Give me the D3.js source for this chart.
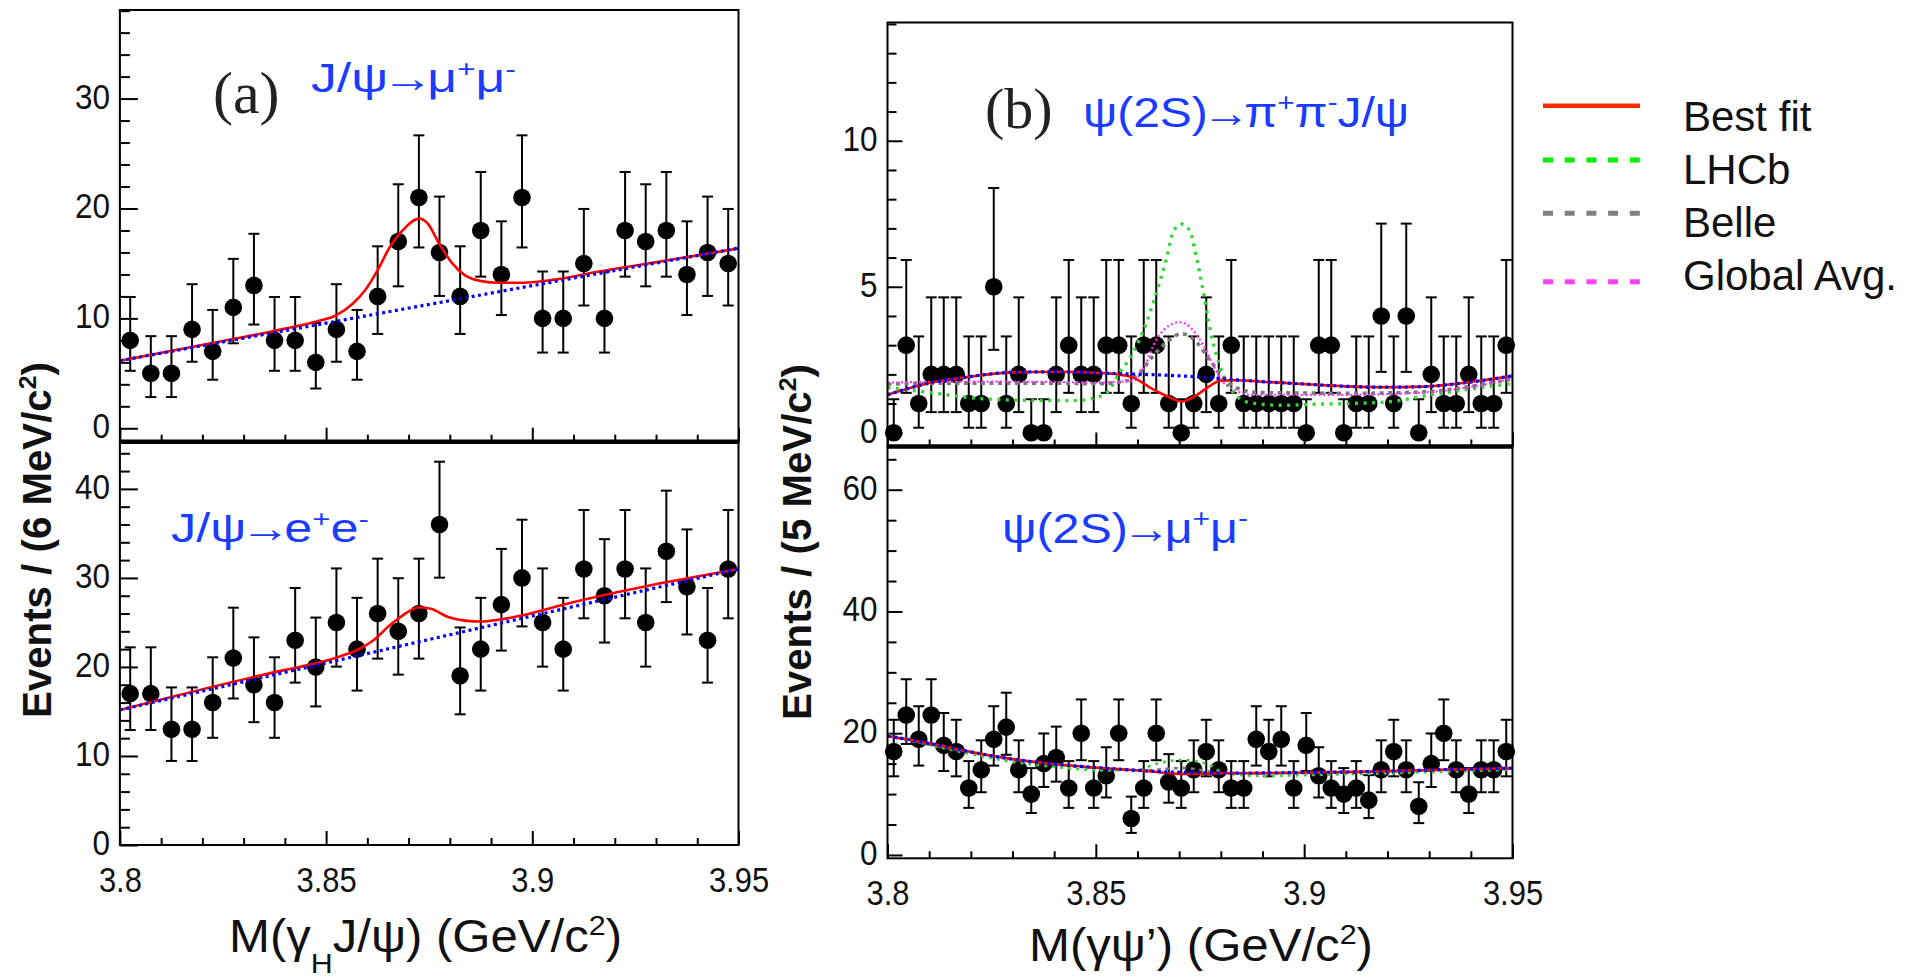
<!DOCTYPE html>
<html><head><meta charset="utf-8">
<script src="https://cdn.jsdelivr.net/npm/d3@7"></script>
<style>body{margin:0;background:#fff;} svg{display:block;}</style>
</head><body>
<svg id="chart" width="1930" height="980"></svg>
<script>
// ---------------- data ----------------
const xTickValues = [3.8, 3.85, 3.9, 3.95];
const xTickLabels = ["3.8", "3.85", "3.9", "3.95"];

// (a) 5 MeV bins
const binCentersA = [3.8025,3.8075,3.8125,3.8175,3.8225,3.8275,3.8325,3.8375,3.8425,3.8475,
  3.8525,3.8575,3.8625,3.8675,3.8725,3.8775,3.8825,3.8875,3.8925,3.8975,
  3.9025,3.9075,3.9125,3.9175,3.9225,3.9275,3.9325,3.9375,3.9425,3.9475];
const aTopCounts = [8,5,5,9,7,11,13,8,8,6,9,7,12,17,21,16,12,18,14,21,10,10,15,10,18,17,18,14,16,15];
const aBotCounts = [17,17,13,13,16,21,18,16,23,20,25,22,26,24,26,36,19,22,27,30,25,22,31,28,31,25,33,29,23,31];

// (b) 3 MeV bins
const binCentersB = [3.8015,3.8045,3.8075,3.8105,3.8135,3.8165,3.8195,3.8225,3.8255,3.8285,
  3.8315,3.8345,3.8375,3.8405,3.8435,3.8465,3.8495,3.8525,3.8555,3.8585,
  3.8615,3.8645,3.8675,3.8705,3.8735,3.8765,3.8795,3.8825,3.8855,3.8885,
  3.8915,3.8945,3.8975,3.9005,3.9035,3.9065,3.9095,3.9125,3.9155,3.9185,
  3.9215,3.9245,3.9275,3.9305,3.9335,3.9365,3.9395,3.9425,3.9455,3.9485];
const bTopCounts = [0,3,1,2,2,2,1,1,5,1, 2,0,0,2,3,2,2,3,3,1, 3,3,1,0,1,2,1,3,1,1,
  1,1,1,0,3,3,0,1,1,4, 1,4,0,2,1,1,2,1,1,3];
const bBotCounts = [17,23,19,23,18,17,11,14,19,21, 14,10,15,16,11,20,11,13,20,6,
  11,20,12,11,14,17,14,11,11,19, 17,19,11,18,13,11,10,11,9,14,
  17,14,8,15,20,14,10,14,14,17];

// fit curves (a)
const aTopFitX = [3.8,3.8253,3.8404,3.8475,3.8525,3.8565,3.8595,3.8625,3.8655,3.8686,3.8726,3.8746,3.8776,3.8806,3.8836,3.8877,3.8917,3.8977,3.9058,3.9158,3.9259,3.95];
const aTopFitY = [6.15,7.97,9.09,9.70,10.30,11.36,12.58,14.39,16.52,18.03,19.09,18.64,16.67,15.0,13.94,13.39,13.24,13.24,13.55,14.24,14.85,16.36];
const aTopBkgX = [3.8, 3.95];
const aTopBkgY = [6.15, 16.4];
const aBotFitX = [3.8,3.8404,3.8475,3.8535,3.8575,3.8615,3.8655,3.8686,3.8726,3.8756,3.8796,3.8836,3.8877,3.8917,3.8977,3.9058,3.95];
const aBotFitY = [15.17,19.7,20.4,21.2,21.9,23.0,24.7,25.8,26.7,26.5,25.6,25.2,25.1,25.3,25.8,26.8,31.0];
const aBotBkgX = [3.8, 3.95];
const aBotBkgY = [15.17, 31.0];

// curves (b) top
const bTopBkgX = [3.8,3.805,3.8106,3.8186,3.8298,3.8406,3.852,3.859,3.867,3.875,3.883,3.891,3.9,3.9086,3.918,3.9286,3.939,3.95];
const bTopBkgY = [1.30,1.52,1.72,1.90,2.07,2.09,2.04,2.01,1.97,1.91,1.82,1.74,1.67,1.60,1.56,1.58,1.72,1.95];
const bTopFitX = [3.8,3.805,3.8106,3.8186,3.8298,3.8406,3.852,3.8548,3.859,3.863,3.867,3.8706,3.8742,3.8774,3.8798,3.883,3.891,3.9,3.9086,3.918,3.9286,3.939,3.95];
const bTopFitY = [1.30,1.52,1.72,1.90,2.07,2.09,2.04,2.01,1.89,1.55,1.26,1.07,1.29,1.61,1.78,1.80,1.74,1.67,1.60,1.56,1.58,1.72,1.95];
const bTopLhcbX = [3.8,3.81,3.82,3.83,3.845,3.852,3.8558,3.859,3.8622,3.8646,3.867,3.8686,3.8706,3.8726,3.8742,3.8758,3.8774,3.879,3.8814,3.8838,3.887,3.895,3.903,3.9125,3.921,3.93,3.95];
const bTopLhcbY = [1.55,1.38,1.20,1.12,1.10,1.30,2.07,2.76,3.79,4.83,5.98,6.90,7.15,6.90,5.98,4.83,3.56,2.64,1.72,1.26,1.03,0.94,0.98,1.01,1.07,1.29,1.69];
const bTopBelleX = [3.8,3.82,3.84,3.85,3.8574,3.8606,3.8638,3.867,3.8706,3.8742,3.8766,3.879,3.8814,3.8846,3.889,3.9,3.91,3.9286,3.939,3.95];
const bTopBelleY = [1.67,1.70,1.70,1.68,1.78,2.07,2.64,3.10,3.39,3.10,2.64,2.18,1.78,1.49,1.38,1.36,1.35,1.40,1.57,1.85];
const bTopAvgX = [3.8,3.82,3.84,3.85,3.859,3.8618,3.8642,3.8666,3.8702,3.873,3.8758,3.8782,3.8806,3.883,3.887,3.9,3.91,3.9286,3.939,3.95];
const bTopAvgY = [1.72,1.75,1.74,1.72,1.78,2.30,3.10,3.56,3.79,3.56,2.99,2.30,1.72,1.49,1.30,1.30,1.30,1.38,1.55,1.85];

// curves (b) bottom
const bBotBkgX = [3.8,3.8106,3.8198,3.8298,3.8398,3.8522,3.867,3.883,3.9,3.9125,3.925,3.935,3.95];
const bBotBkgY = [19.55,18.25,16.95,15.75,14.95,14.25,13.65,13.45,13.55,13.65,13.85,14.05,14.25];
const bBotFitX = [3.8,3.8106,3.8198,3.8298,3.8398,3.8522,3.862,3.8706,3.879,3.89,3.9,3.9125,3.925,3.935,3.95];
const bBotFitY = [19.55,18.25,16.95,15.75,14.95,14.25,13.8,13.3,13.4,13.45,13.55,13.65,13.85,14.05,14.25];
const bBotLhcbX = [3.8,3.8106,3.8198,3.8298,3.8398,3.8522,3.86,3.8646,3.8706,3.8766,3.881,3.89,3.9,3.9125,3.925,3.935,3.95];
const bBotLhcbY = [19.8,18.0,16.6,15.3,14.5,13.9,14.0,15.0,15.6,15.0,13.4,13.0,13.1,13.3,13.5,13.7,14.0];
const bBotBelleX = [3.8,3.8198,3.8398,3.8522,3.862,3.8706,3.879,3.89,3.9125,3.935,3.95];
const bBotBelleY = [19.5,16.9,14.9,14.2,13.9,14.3,13.6,13.4,13.6,14.0,14.2];

const legendLabels = ["Best fit", "LHCb", "Belle", "Global Avg."];
const legendColors = ["#ff2a00", "#00f000", "#808080", "#ff40ff"];

// ---------------- helpers ----------------
function cdf(n, mu){ let t = Math.exp(-mu), s = t; for(let k=1;k<=n;k++){ t *= mu/k; s += t; } return s; }
function solveMu(n, target){ let lo=0, hi=200; for(let i=0;i<70;i++){ const m=(lo+hi)/2; if(cdf(n,m)>target) lo=m; else hi=m; } return (lo+hi)/2; }
// 68% Poisson interval of a count (as drawn by the plotting package)
function errHi(n){ return n===0 ? 1.148 : solveMu(n, 0.15866); }
function errLo(n){ return n===0 ? 0 : solveMu(n-1, 0.84134); }

const svg = d3.select("#chart");
const SANS = "'Liberation Sans', Arial, Helvetica, sans-serif";
const BLUE = "#1a3cff";

function zip(xs, ys){ return xs.map((x,i)=>[x, ys[i]]); }

function richText(g, parts, attrs){
  const t = g.append("text");
  Object.entries(attrs).forEach(([k,v])=>t.attr(k,v));
  let shift = 0;
  const base = parseFloat(attrs["font-size"]);
  let pendingDx = 0;
  parts.forEach(([s, type])=>{
    const ts = t.append("tspan").text(s);
    let target = 0;
    if(type==="sup"){ target = -0.38; ts.attr("font-size","62%"); }
    if(type==="sub"){ target = 0.45; ts.attr("font-size","62%"); }
    if(type==="arrow"){ ts.attr("font-weight","bold"); }
    let dx = pendingDx; pendingDx = 0;
    if(type==="arrow"){ dx -= 0.12*base; pendingDx = -0.12*base; }
    if(dx) ts.attr("dx", dx);
    const d = (target - shift) * base;
    if(d !== 0) ts.attr("dy", d);
    shift = target;
  });
  return t;
}

function drawSub(cfg){
  const {x, y, counts, centers, top, bottom, left, right, yMajor, yMinor, majLen, minLen, showXLabels, curves} = cfg;
  const g = svg.append("g");
  // y axis ticks (inward)
  const ax = d3.axisLeft(y).tickValues(yMajor).tickSize(-majLen).tickPadding(11).tickFormat(d3.format("d"));
  const gy = g.append("g").attr("transform",`translate(${left},0)`).call(ax);
  gy.select(".domain").remove();
  gy.selectAll("line").attr("stroke","#000").attr("stroke-width",2);
  gy.selectAll("text").attr("font-family",SANS).attr("font-size",35).attr("fill","#111")
    .attr("dy","0.27em").attr("transform","scale(0.9,1)");
  const axm = d3.axisLeft(y).tickValues(yMinor).tickSize(-minLen).tickFormat("");
  const gym = g.append("g").attr("transform",`translate(${left},0)`).call(axm);
  gym.select(".domain").remove();
  gym.selectAll("line").attr("stroke","#000").attr("stroke-width",2);
  // x axis ticks (inward)
  const axx = d3.axisBottom(x).tickValues(xTickValues).tickSize(-14).tickPadding(21)
      .tickFormat((d,i)=> showXLabels ? xTickLabels[i] : "");
  const gx = g.append("g").attr("transform",`translate(0,${bottom})`).call(axx);
  gx.select(".domain").remove();
  gx.selectAll("line").attr("stroke","#000").attr("stroke-width",2);
  gx.selectAll("text").attr("font-family",SANS).attr("font-size",36).attr("fill","#111")
    .attr("transform","scale(0.86,1)");
  const minorX = d3.range(3.81, 3.95, 0.01).filter(v=>Math.abs((v-3.8)/0.05 - Math.round((v-3.8)/0.05))>1e-6);
  const axxm = d3.axisBottom(x).tickValues(minorX).tickSize(-7).tickFormat("");
  const gxm = g.append("g").attr("transform",`translate(0,${bottom})`).call(axxm);
  gxm.select(".domain").remove();
  gxm.selectAll("line").attr("stroke","#000").attr("stroke-width",2);

  // error bars
  const pts = centers.map((c,i)=>({x:c, n:counts[i]}));
  const eb = g.append("g").attr("stroke","#000").attr("stroke-width",2);
  pts.forEach(p=>{
    const px = x(p.x), y1 = y(errLo(p.n)), y2 = y(errHi(p.n));
    eb.append("line").attr("x1",px).attr("x2",px).attr("y1",y1).attr("y2",y2);
    eb.append("line").attr("x1",px-5.5).attr("x2",px+5.5).attr("y1",y2).attr("y2",y2);
    if(p.n>0) eb.append("line").attr("x1",px-5.5).attr("x2",px+5.5).attr("y1",y1).attr("y2",y1);
  });
  g.append("g").selectAll("circle").data(pts).join("circle")
    .attr("cx",d=>x(d.x)).attr("cy",d=>y(d.n)).attr("r",8.8).attr("fill","#000");

  // curves
  const line = d3.line().x(d=>x(d[0])).y(d=>y(d[1])).curve(d3.curveMonotoneX);
  curves.forEach(c=>{
    g.append("path").datum(c.data).attr("d",line).attr("fill","none")
      .attr("stroke",c.color).attr("stroke-width",c.w).attr("stroke-dasharray",c.dash||null)
      .attr("opacity",c.op||1);
  });
  // frame
  g.append("rect").attr("x",left).attr("y",top).attr("width",right-left).attr("height",bottom-top)
    .attr("fill","none").attr("stroke","#000").attr("stroke-width",2);
  return g;
}

// ---------------- panels ----------------
const L = {left:119.9, right:738.5, t1:10, mid:441.7, b2:845};
const R = {left:887.5, right:1512.5, t1:22.5, mid:446.5, b2:858.3};

const xA = d3.scaleLinear().domain([3.8,3.95]).range([L.left, L.right]);
const yAtop = d3.scaleLinear().domain([-1.22,38.06]).range([L.mid, L.t1]);
const yAbot = d3.scaleLinear().domain([0,45.3]).range([L.b2, L.mid]);
const xB = d3.scaleLinear().domain([3.8,3.95]).range([R.left, R.right]);
const yBtop = d3.scaleLinear().domain([-0.47,14.05]).range([R.mid, R.t1]);
const yBbot = d3.scaleLinear().domain([-0.55,67.1]).range([R.b2, R.mid]);

const RED = {color:"#ff0000", w:2.6};
const BLU = {color:"#0000ff", w:3.2, dash:"3,3.5"};

drawSub({x:xA, y:yAtop, counts:aTopCounts, centers:binCentersA, top:L.t1, bottom:L.mid, left:L.left, right:L.right,
  yMajor:[0,10,20,30], yMinor:d3.range(2,39,2).filter(v=>v%10), majLen:18, minLen:10, showXLabels:false,
  curves:[{...RED, data:zip(aTopFitX,aTopFitY)}, {...BLU, data:zip(aTopBkgX,aTopBkgY)}]});
drawSub({x:xA, y:yAbot, counts:aBotCounts, centers:binCentersA, top:L.mid, bottom:L.b2, left:L.left, right:L.right,
  yMajor:[0,10,20,30,40], yMinor:d3.range(2,45,2).filter(v=>v%10), majLen:18, minLen:10, showXLabels:true,
  curves:[{...RED, data:zip(aBotFitX,aBotFitY)}, {...BLU, data:zip(aBotBkgX,aBotBkgY)}]});
drawSub({x:xB, y:yBtop, counts:bTopCounts, centers:binCentersB, top:R.t1, bottom:R.mid, left:R.left, right:R.right,
  yMajor:[0,5,10], yMinor:d3.range(1,15,1).filter(v=>v%5), majLen:15, minLen:9, showXLabels:false,
  curves:[
    {color:"#33d633", w:3.4, dash:"3,5.5", data:zip(bTopLhcbX,bTopLhcbY)},
    {color:"#7a7a7a", w:3.6, dash:"4,4.5", data:zip(bTopBelleX,bTopBelleY)},
    {color:"#ff30ff", w:2.2, dash:"2,2.5", data:zip(bTopAvgX,bTopAvgY)},
    {...RED, data:zip(bTopFitX,bTopFitY)}, {...BLU, data:zip(bTopBkgX,bTopBkgY)}]});
drawSub({x:xB, y:yBbot, counts:bBotCounts, centers:binCentersB, top:R.mid, bottom:R.b2, left:R.left, right:R.right,
  yMajor:[0,20,40,60], yMinor:d3.range(5,66,5).filter(v=>v%20), majLen:15, minLen:9, showXLabels:true,
  curves:[
    {color:"#33d633", w:2.6, dash:"3,5", data:zip(bBotLhcbX,bBotLhcbY)},
    {color:"#7a7a7a", w:2.6, dash:"4,4.5", data:zip(bBotBelleX,bBotBelleY)},
    {...RED, data:zip(bBotFitX,bBotFitY)}, {...BLU, data:zip(bBotBkgX,bBotBkgY)}]});

// thick separators
svg.append("line").attr("x1",L.left).attr("x2",L.right).attr("y1",L.mid).attr("y2",L.mid).attr("stroke","#000").attr("stroke-width",4.5);
svg.append("line").attr("x1",R.left).attr("x2",R.right).attr("y1",R.mid).attr("y2",R.mid).attr("stroke","#000").attr("stroke-width",4.5);

// ---------------- texts ----------------
const tg = svg.append("g");
tg.append("text").text("(a)").attr("x",213).attr("y",113).attr("font-family","'Liberation Serif', 'Times New Roman', serif")
  .attr("font-size",60).attr("fill","#222");
tg.append("text").text("(b)").attr("x",985).attr("y",128).attr("font-family","'Liberation Serif', 'Times New Roman', serif")
  .attr("font-size",58).attr("fill","#222");

richText(tg, [["J/ψ","n"],["→","arrow"],["μ","n"],["+","sup"],["μ","n"],["-","sup"]],
  {x:311, y:92, "font-family":SANS, "font-size":40, fill:BLUE, textLength:205, lengthAdjust:"spacingAndGlyphs"});
richText(tg, [["J/ψ","n"],["→","arrow"],["e","n"],["+","sup"],["e","n"],["-","sup"]],
  {x:171, y:542, "font-family":SANS, "font-size":40, fill:BLUE, textLength:198, lengthAdjust:"spacingAndGlyphs"});
richText(tg, [["ψ(2S)","n"],["→","arrow"],["π","n"],["+","sup"],["π","n"],["-","sup"],["J/ψ","n"]],
  {x:1083, y:127, "font-family":SANS, "font-size":42, fill:BLUE, textLength:326, lengthAdjust:"spacingAndGlyphs"});
richText(tg, [["ψ(2S)","n"],["→","arrow"],["μ","n"],["+","sup"],["μ","n"],["-","sup"]],
  {x:1002, y:543, "font-family":SANS, "font-size":42, fill:BLUE, textLength:246, lengthAdjust:"spacingAndGlyphs"});

// axis titles
richText(tg, [["M(γ","n"],["H","sub"],["J/ψ) (GeV/c","n"],["2","sup"],[")","n"]],
  {x:229, y:952, "font-family":SANS, "font-size":46, fill:"#111", textLength:393, lengthAdjust:"spacingAndGlyphs"});
richText(tg, [["M(γψ’) (GeV/c","n"],["2","sup"],[")","n"]],
  {x:1029, y:961, "font-family":SANS, "font-size":46, fill:"#111", textLength:344, lengthAdjust:"spacingAndGlyphs"});

const yl1 = tg.append("g").attr("transform","translate(51,540) rotate(-90)");
richText(yl1, [["Events / (6 MeV/c","n"],["2","sup"],[")","n"]],
  {x:-178, y:0, "font-family":SANS, "font-size":40, "font-weight":"bold", fill:"#111", textLength:356, lengthAdjust:"spacingAndGlyphs"});
const yl2 = tg.append("g").attr("transform","translate(811,542) rotate(-90)");
richText(yl2, [["Events / (5 MeV/c","n"],["2","sup"],[")","n"]],
  {x:-178, y:0, "font-family":SANS, "font-size":40, "font-weight":"bold", fill:"#111", textLength:356, lengthAdjust:"spacingAndGlyphs"});

// ---------------- legend ----------------
const legY = [105.7, 160, 213.3, 281.7];
const legBase = [131, 184, 237, 290];
const lg = svg.append("g");
legendLabels.forEach((lab,i)=>{
  lg.append("line").attr("x1",1543).attr("x2",1640).attr("y1",legY[i]).attr("y2",legY[i])
    .attr("stroke",legendColors[i]).attr("stroke-width",i===0?4.5:5)
    .attr("stroke-dasharray", i===0?null:"10,11.7");
  lg.append("text").text(lab).attr("x",1683).attr("y",legBase[i]).attr("font-family",SANS)
    .attr("font-size",42).attr("fill","#111");
});
</script>
</body></html>
